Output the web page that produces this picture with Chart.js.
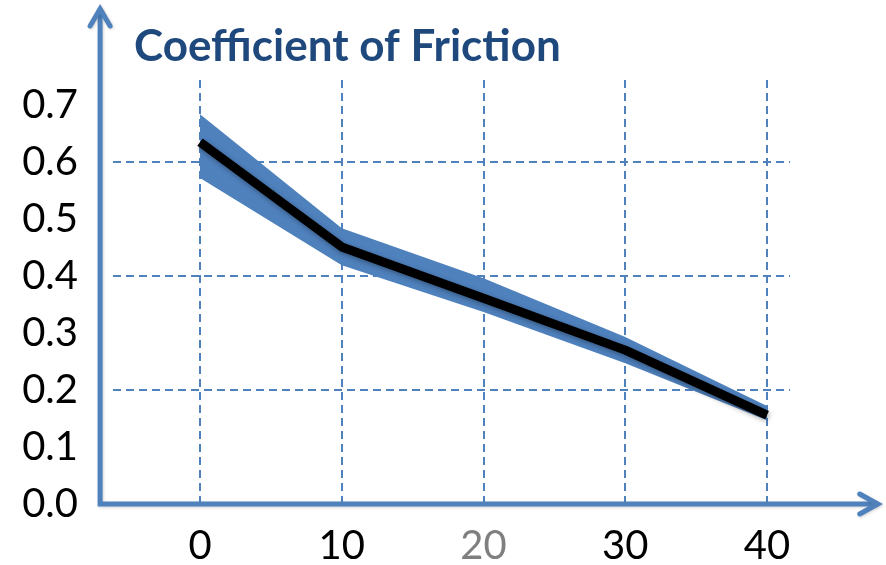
<!DOCTYPE html>
<html>
<head>
<meta charset="utf-8">
<script src="https://cdn.jsdelivr.net/npm/chart.js@4/dist/chart.umd.min.js"></script>
<style>
  html, body { margin: 0; padding: 0; background: #ffffff; }
  #wrap { width: 886px; height: 565px; position: relative; }
</style>
</head>
<body>
<div id="wrap"><canvas id="chart"></canvas></div>
<script>
// Friction coefficient versus x, with a shaded spread band
const TITLE = 'Coefficient of Friction';
const xValues = [0, 10, 20, 30, 40];
const meanFriction = [0.635, 0.451, 0.361, 0.270, 0.156];
const upperBound = [0.684, 0.484, 0.396, 0.293, 0.172];
const lowerBound = [0.572, 0.419, 0.337, 0.247, 0.147];

const xTickValues = [0, 10, 20, 30, 40];
const xTickColors = ['#000000', '#000000', '#7f7f7f', '#000000', '#000000'];
const yTickValues = [0, 0.1, 0.2, 0.3, 0.4, 0.5, 0.6, 0.7];
const yGridValues = [0.2, 0.4, 0.6];

const BLUE = '#4f81bd';
const TITLE_BLUE = '#1f497d';
const FONT = 'Lato, "Open Sans", sans-serif';

// where the arrowed axes sit, in data units
const AXIS_X_AT = -7.05;     // vertical axis position on the x scale
const AXIS_X_END = 47.95;    // tip of the horizontal arrow
const AXIS_Y_END = 0.872;    // tip of the vertical arrow

const toPoints = arr => arr.map((v, i) => ({ x: xValues[i], y: v }));

const arrowAxes = {
  id: 'arrowAxes',
  afterDraw(chart) {
    const { ctx, scales: { x, y } } = chart;
    const ox = x.getPixelForValue(AXIS_X_AT);
    const oy = y.getPixelForValue(0);
    const tipX = x.getPixelForValue(AXIS_X_END);
    const tipY = y.getPixelForValue(AXIS_Y_END);
    ctx.save();
    ctx.strokeStyle = BLUE;
    ctx.lineWidth = 5;
    ctx.lineCap = 'butt';
    ctx.lineJoin = 'miter';
    ctx.shadowColor = 'rgba(0,0,0,0.18)';
    ctx.shadowBlur = 3;
    ctx.shadowOffsetX = 1;
    ctx.shadowOffsetY = 1;
    // axis lines
    ctx.beginPath();
    ctx.moveTo(ox, tipY + 2);
    ctx.lineTo(ox, oy);
    ctx.lineTo(tipX - 2, oy);
    ctx.stroke();
    // arrow heads
    ctx.lineCap = 'round';
    ctx.beginPath();
    ctx.moveTo(ox - 10, tipY + 19);
    ctx.lineTo(ox, tipY + 2);
    ctx.lineTo(ox + 10, tipY + 19);
    ctx.moveTo(tipX - 20, oy - 10);
    ctx.lineTo(tipX - 2, oy);
    ctx.lineTo(tipX - 20, oy + 10);
    ctx.stroke();
    ctx.restore();

    // title
    ctx.save();
    ctx.fillStyle = TITLE_BLUE;
    ctx.font = 'bold 44px ' + FONT;
    ctx.textAlign = 'left';
    ctx.textBaseline = 'alphabetic';
    ctx.fillText(TITLE, 134, 61);
    ctx.restore();
  }
};

const lineShadow = {
  id: 'lineShadow',
  beforeDatasetDraw(chart, args) {
    if (args.index !== 0) return;
    const ctx = chart.ctx;
    ctx.save();
    ctx.shadowColor = 'rgba(0,0,0,0.35)';
    ctx.shadowBlur = 5;
    ctx.shadowOffsetX = 1;
    ctx.shadowOffsetY = 2;
  },
  afterDatasetDraw(chart, args) {
    if (args.index !== 0) return;
    chart.ctx.restore();
  }
};

new Chart(document.getElementById('chart'), {
  type: 'line',
  data: {
    datasets: [
      {
        label: 'Mean',
        data: toPoints(meanFriction),
        borderColor: '#000000',
        borderWidth: 9,
        borderJoinStyle: 'round',
        pointRadius: 0,
        fill: false,
        order: 0
      },
      {
        label: 'Upper',
        data: toPoints(upperBound),
        borderWidth: 0,
        borderColor: 'rgba(0,0,0,0)',
        backgroundColor: BLUE,
        pointRadius: 0,
        fill: '+1',
        order: 1
      },
      {
        label: 'Lower',
        data: toPoints(lowerBound),
        borderWidth: 0,
        borderColor: 'rgba(0,0,0,0)',
        pointRadius: 0,
        fill: false,
        order: 2
      }
    ]
  },
  options: {
    responsive: true,
    maintainAspectRatio: false,
    animation: false,
    layout: { padding: { left: 0, right: 96, top: 80, bottom: 0 } },
    plugins: {
      legend: { display: false },
      tooltip: { enabled: false },
      title: { display: false }
    },
    scales: {
      x: {
        type: 'linear',
        min: -6.14,
        max: 41.62,
        afterBuildTicks: s => { s.ticks = xTickValues.map(v => ({ value: v })); },
        afterFit: s => { s.height = 61; },
        border: { display: false, dash: [8, 5] },
        grid: {
          color: BLUE,
          lineWidth: 2,
          drawTicks: false,
          borderDash: [8, 5]
        },
        ticks: {
          padding: 18,
          maxRotation: 0,
          autoSkip: false,
          font: { family: FONT, size: 40 },
          color: c => xTickColors[xTickValues.indexOf(c.tick.value)] || '#000000',
          callback: v => String(v)
        }
      },
      y: {
        type: 'linear',
        min: 0,
        max: 0.7439,
        afterBuildTicks: s => { s.ticks = yTickValues.map(v => ({ value: v })); },
        afterFit: s => { s.width = 113; },
        border: { display: false, dash: [8, 5] },
        grid: {
          color: c => yGridValues.some(v => Math.abs(v - c.tick.value) < 1e-6) ? BLUE : 'rgba(0,0,0,0)',
          lineWidth: 2,
          drawTicks: false,
          borderDash: [8, 5]
        },
        ticks: {
          padding: 35,
          autoSkip: false,
          font: { family: FONT, size: 40 },
          color: '#000000',
          callback: v => Number(v).toFixed(1)
        }
      }
    }
  },
  plugins: [lineShadow, arrowAxes]
});
</script>
</body>
</html>
